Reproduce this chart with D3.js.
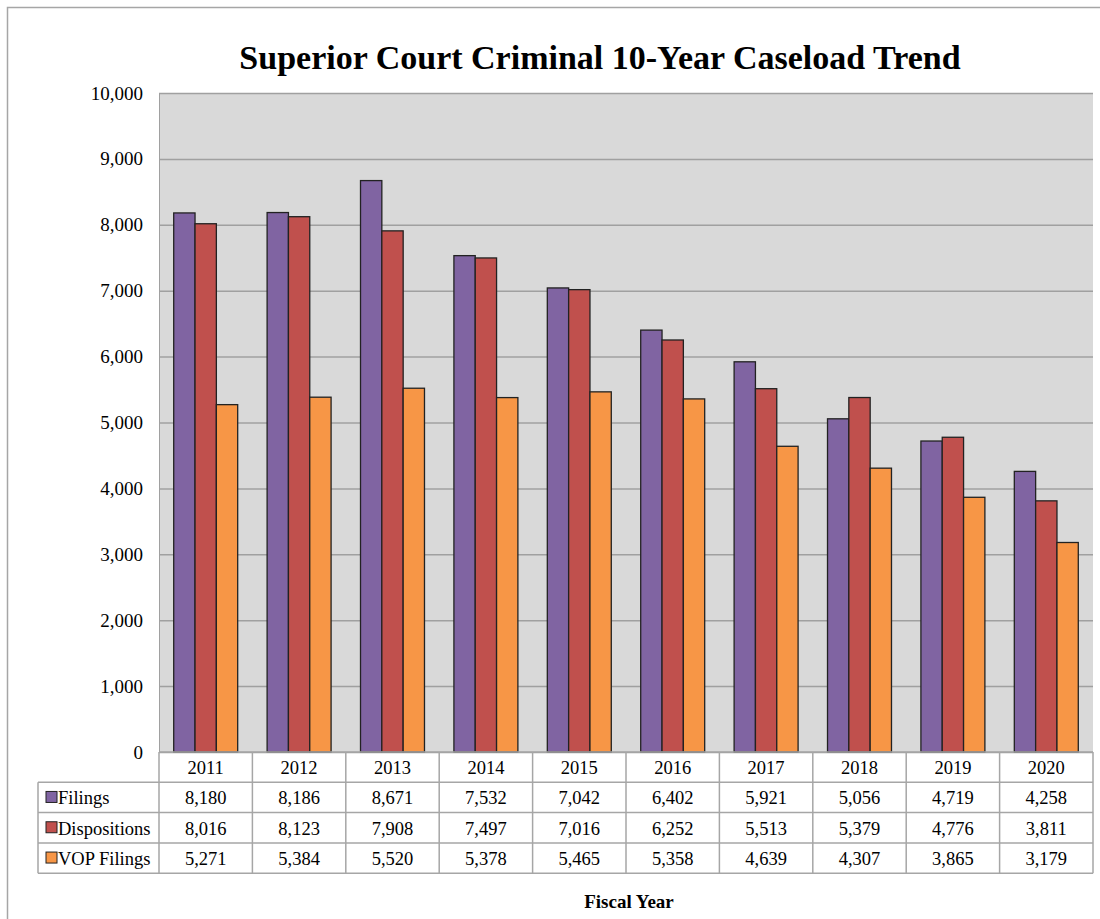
<!DOCTYPE html>
<html>
<head>
<meta charset="utf-8">
<script src="https://cdn.jsdelivr.net/npm/d3@7"></script>
<style>
  body { margin: 0; background: #fff; }
  svg { font-family: "Liberation Serif", "Times New Roman", serif; }
</style>
</head>
<body>
<svg id="plot" width="1100" height="919"></svg>
<script>
let years = ["2011", "2012", "2013", "2014", "2015", "2016", "2017", "2018", "2019", "2020"];
let seriesNames = ["Filings", "Dispositions", "VOP Filings"];
let filings = [8180, 8186, 8671, 7532, 7042, 6402, 5921, 5056, 4719, 4258];
let dispositions = [8016, 8123, 7908, 7497, 7016, 6252, 5513, 5379, 4776, 3811];
let vopFilings = [5271, 5384, 5520, 5378, 5465, 5358, 4639, 4307, 3865, 3179];
let yTicks = [0, 1000, 2000, 3000, 4000, 5000, 6000, 7000, 8000, 9000, 10000];

let colourScale = d3.scaleOrdinal()
    .domain(seriesNames)
    .range(["#8064a2", "#c0504d", "#f79646"]);

let seriesValues = [filings, dispositions, vopFilings];

let margin = {top: 93, right: 7, bottom: 167, left: 159};
let width = 1100, height = 919;
let rowH = 30.3;
let tableLeft = 38;

let svg = d3.select("#plot");
let fmt = d3.format(",");

// outer frame
svg.append("rect")
    .attr("x", 7.5).attr("y", 7.5)
    .attr("width", width + 10).attr("height", height + 10)
    .attr("fill", "none")
    .attr("stroke", "#a6a6a6")
    .attr("stroke-width", 1.5);

let x = d3.scaleBand()
    .domain(years)
    .range([margin.left, width - margin.right]);

let xInner = d3.scaleBand()
    .domain(seriesNames)
    .range([0, x.bandwidth() * 0.685])
    .paddingInner(0);

let y = d3.scaleLinear()
    .domain([0, 10000])
    .range([height - margin.bottom, margin.top]);

// plot background
svg.append("rect")
    .attr("x", margin.left)
    .attr("y", y(10000))
    .attr("width", x.range()[1] - margin.left)
    .attr("height", y(0) - y(10000))
    .attr("fill", "#d9d9d9");

let yAxis = g => g
    .attr("transform", `translate(${margin.left}, 0)`)
    .call(d3.axisLeft(y)
            .tickValues(yTicks)
            .tickFormat(fmt)
            .tickSize(-(x.range()[1] - margin.left))
            .tickPadding(16))
    .call(g => g.select(".domain").attr("stroke", "#a0a0a0"))
    .call(g => g.selectAll(".tick line")
              .attr("stroke", "#a0a0a0")
              .attr("stroke-width", 1.5))
    .call(g => g.selectAll(".tick text")
              .attr("fill", "#000")
              .attr("font-size", 19)
              .attr("font-family", "Liberation Serif, serif"));

svg.append("g").call(yAxis);

// bars
let groups = svg.append("g")
  .selectAll("g")
  .data(years)
  .join("g")
    .attr("transform", d => `translate(${x(d) + (x.bandwidth() - xInner.range()[1]) / 2}, 0)`);

groups.selectAll("rect")
  .data((d, i) => seriesNames.map((s, j) => ({series: s, value: seriesValues[j][i]})))
  .join("rect")
    .attr("x", d => xInner(d.series))
    .attr("y", d => y(d.value))
    .attr("width", xInner.bandwidth())
    .attr("height", d => y(0) - y(d.value))
    .attr("fill", d => colourScale(d.series))
    .attr("stroke", "#222")
    .attr("stroke-width", 1.3);

// data table
let table = svg.append("g");
let tTop = y(0);
let xEnd = x.range()[1];
let lineColour = "#a6a6a6";

// header row (years)
table.selectAll(".yr")
  .data(years)
  .join("text")
    .attr("x", d => x(d) + x.bandwidth() / 2)
    .attr("y", tTop + rowH / 2 + 7)
    .attr("text-anchor", "middle")
    .style("font-size", "18.5px")
    .text(d => d);

// data rows
seriesNames.forEach((s, j) => {
  let ry = tTop + rowH * (j + 1);
  table.append("rect")
      .attr("x", tableLeft + 8)
      .attr("y", ry + rowH / 2 - 6)
      .attr("width", 11).attr("height", 11)
      .attr("fill", colourScale(s))
      .attr("stroke", "#222")
      .attr("stroke-width", 1);
  table.append("text")
      .attr("x", tableLeft + 20)
      .attr("y", ry + rowH / 2 + 7)
      .style("font-size", "18.5px")
      .text(s);
  table.selectAll(null)
    .data(seriesValues[j])
    .join("text")
      .attr("x", (d, i) => x(years[i]) + x.bandwidth() / 2)
      .attr("y", ry + rowH / 2 + 7)
      .attr("text-anchor", "middle")
      .style("font-size", "18.5px")
      .text(d => fmt(d));
});

// grid lines
let hLines = [0, 1, 2, 3, 4];
table.selectAll(".hl")
  .data(hLines)
  .join("line")
    .attr("x1", d => d === 0 ? margin.left : tableLeft)
    .attr("x2", xEnd)
    .attr("y1", d => tTop + d * rowH)
    .attr("y2", d => tTop + d * rowH)
    .attr("stroke", lineColour)
    .attr("stroke-width", 1.5);

table.selectAll(".vl")
  .data(years.concat(["end"]))
  .join("line")
    .attr("x1", d => d === "end" ? xEnd : x(d))
    .attr("x2", d => d === "end" ? xEnd : x(d))
    .attr("y1", tTop)
    .attr("y2", tTop + 4 * rowH)
    .attr("stroke", lineColour)
    .attr("stroke-width", 1.5);

table.append("line")
    .attr("x1", tableLeft).attr("x2", tableLeft)
    .attr("y1", tTop + rowH).attr("y2", tTop + 4 * rowH)
    .attr("stroke", lineColour)
    .attr("stroke-width", 1.5);

// title and axis label
svg.append("text")
    .attr("x", 600)
    .attr("y", 69)
    .attr("text-anchor", "middle")
    .style("font-size", "34px")
    .style("font-weight", "bold")
    .text("Superior Court Criminal 10-Year Caseload Trend");

svg.append("text")
    .attr("x", 629)
    .attr("y", 908)
    .attr("text-anchor", "middle")
    .style("font-size", "19px")
    .style("font-weight", "bold")
    .text("Fiscal Year");
</script>
</body>
</html>
